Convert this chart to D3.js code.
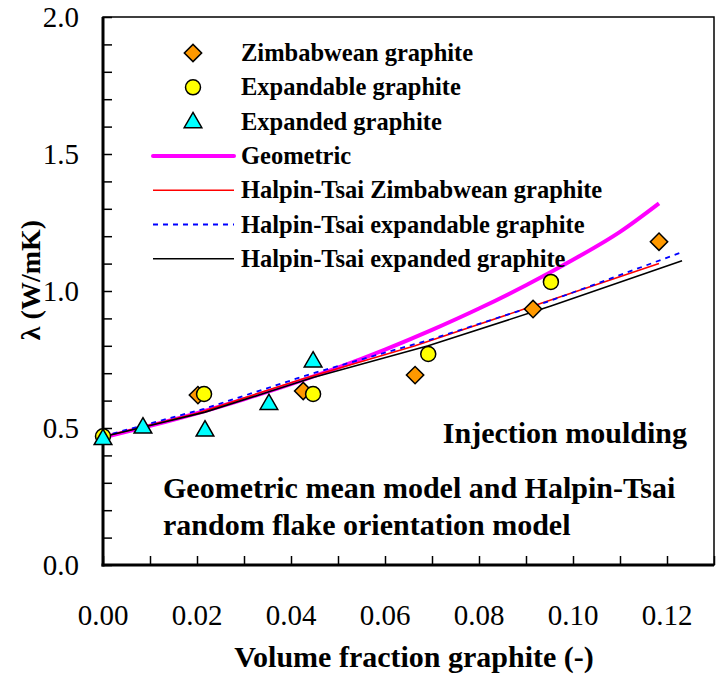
<!DOCTYPE html>
<html>
<head>
<meta charset="utf-8">
<script src="https://cdn.jsdelivr.net/npm/d3@7"></script>
<style>
  html, body { margin: 0; padding: 0; background: #fff; }
  svg { display: block; }
</style>
</head>
<body>
<svg id="chart" width="716" height="675"></svg>
<script>
// ---- data ----
const xTicks = [0, 0.02, 0.04, 0.06, 0.08, 0.10, 0.12];
const xTickLabels = ["0.00", "0.02", "0.04", "0.06", "0.08", "0.10", "0.12"];
const yTicks = [0, 0.5, 1.0, 1.5, 2.0];
const yTickLabels = ["0.0", "0.5", "1.0", "1.5", "2.0"];

const zimbX = [0.0202, 0.0426, 0.0664, 0.0915, 0.1183];
const zimbY = [0.62, 0.635, 0.693, 0.934, 1.18];

const expandableX = [0.0, 0.0215, 0.0447, 0.0692, 0.0953];
const expandableY = [0.47, 0.624, 0.624, 0.77, 1.033];

const expandedX = [0.0, 0.0085, 0.0217, 0.0353, 0.0447];
const expandedY = [0.462, 0.504, 0.493, 0.59, 0.745];

const geoX = [0, 0.01, 0.02, 0.03, 0.04, 0.05, 0.06, 0.07, 0.08, 0.09, 0.10, 0.11, 0.1183];
const geoY = [0.465, 0.508, 0.554, 0.605, 0.660, 0.720, 0.786, 0.858, 0.936, 1.021, 1.114, 1.216, 1.32];

const htZimbX = [0, 0.0202, 0.0426, 0.0664, 0.0915, 0.1183];
const htZimbY = [0.468, 0.555, 0.68, 0.80, 0.945, 1.10];

const htExpandableX = [0, 0.0215, 0.0447, 0.0692, 0.0953, 0.1232];
const htExpandableY = [0.47, 0.57, 0.70, 0.82, 0.965, 1.142];

const htExpandedX = [0, 0.0085, 0.0217, 0.0353, 0.0447, 0.0692, 0.0953, 0.1232];
const htExpandedY = [0.468, 0.503, 0.558, 0.632, 0.684, 0.80, 0.945, 1.11];

const legendLabels = ["Zimbabwean graphite", "Expandable graphite", "Expanded graphite",
  "Geometric", "Halpin-Tsai Zimbabwean graphite", "Halpin-Tsai expandable graphite", "Halpin-Tsai expanded graphite"];

// ---- layout ----
const FONT = "'Liberation Serif', 'Times New Roman', Times, 'DejaVu Serif', serif";
const svg = d3.select("#chart").attr("font-family", FONT);
const L = 103, R = 714, T = 17, B = 565;
const x = d3.scaleLinear().domain([0, 0.13]).range([L, R]);
const y = d3.scaleLinear().domain([0, 2.0]).range([B, T]);

const ORANGE = "#FF9900", YELLOW = "#FFFF00", CYAN = "#00FFFF", MAGENTA = "#FF00FF", RED = "#FF0000", BLUE = "#0000FF";

// frame
svg.append("rect").attr("x", L).attr("y", T).attr("width", R - L).attr("height", B - T)
  .attr("fill", "none").attr("stroke", "#000").attr("stroke-width", 1.5);

// axes with inward ticks
const xAxis = d3.axisTop(x).tickValues(d3.range(0, 0.1301, 0.01)).tickSize(9).tickFormat("");
const gx = svg.append("g").attr("transform", `translate(0,${B})`).call(xAxis);
gx.select(".domain").remove();
gx.selectAll("line").attr("stroke", "#000").attr("stroke-width", 1.5);

const yAxis = d3.axisRight(y).tickValues(d3.range(0, 2.001, 0.1)).tickSize(9).tickFormat("");
const gy = svg.append("g").attr("transform", `translate(${L},0)`).call(yAxis);
gy.select(".domain").remove();
gy.selectAll("line").attr("stroke", "#000").attr("stroke-width", 1.5);

svg.append("line").attr("x1", L).attr("x2", L).attr("y1", T).attr("y2", B + 1.5).attr("stroke", "#000").attr("stroke-width", 3);
svg.append("line").attr("x1", L - 1.5).attr("x2", R).attr("y1", B).attr("y2", B).attr("stroke", "#000").attr("stroke-width", 3);

function txt(sel) { return sel.attr("font-family", FONT).attr("fill", "#000"); }

// tick labels
txt(svg.selectAll(".xl").data(xTicks).enter().append("text"))
  .attr("x", d => x(d)).attr("y", 625).attr("text-anchor", "middle")
  .attr("font-size", 29).text((d, i) => xTickLabels[i]);
txt(svg.selectAll(".yl").data(yTicks).enter().append("text"))
  .attr("x", 79).attr("y", d => y(d) + 10).attr("text-anchor", "end")
  .attr("font-size", 29).text((d, i) => yTickLabels[i]);

// axis titles
txt(svg.append("text")).attr("x", 414).attr("y", 667).attr("text-anchor", "middle")
  .attr("font-size", 30).attr("font-weight", "bold").text("Volume fraction graphite (-)");
txt(svg.append("text")).attr("transform", `translate(40,280) rotate(-90)`).attr("text-anchor", "middle")
  .attr("font-size", 28).attr("font-weight", "bold").text("λ (W/mK)");

// lines
const line = d3.line().x(d => x(d[0])).y(d => y(d[1]));
const zip = (a, b) => a.map((v, i) => [v, b[i]]);
svg.append("path").datum(zip(geoX, geoY)).attr("d", line.curve(d3.curveMonotoneX))
  .attr("fill", "none").attr("stroke", MAGENTA).attr("stroke-width", 4);
line.curve(d3.curveLinear);
svg.append("path").datum(zip(htZimbX, htZimbY)).attr("d", line)
  .attr("fill", "none").attr("stroke", RED).attr("stroke-width", 1.6);
svg.append("path").datum(zip(htExpandableX, htExpandableY)).attr("d", line)
  .attr("fill", "none").attr("stroke", BLUE).attr("stroke-width", 1.8).attr("stroke-dasharray", "5,5");
svg.append("path").datum(zip(htExpandedX, htExpandedY)).attr("d", line)
  .attr("fill", "none").attr("stroke", "#000").attr("stroke-width", 1.6);

// markers
const diamond = d3.symbol().type(d3.symbolSquare).size(150);
const tri = d3.symbol().type(d3.symbolTriangle).size(135);
function drawDiamond(g, cx, cy) {
  g.append("path").attr("d", diamond()).attr("transform", `translate(${cx},${cy}) rotate(45)`)
    .attr("fill", ORANGE).attr("stroke", "#000").attr("stroke-width", 1.5);
}
function drawCircle(g, cx, cy) {
  g.append("circle").attr("cx", cx).attr("cy", cy).attr("r", 7.5)
    .attr("fill", YELLOW).attr("stroke", "#000").attr("stroke-width", 1.5);
}
function drawTri(g, cx, cy) {
  g.append("path").attr("d", tri()).attr("transform", `translate(${cx},${cy + 1})`)
    .attr("fill", CYAN).attr("stroke", "#000").attr("stroke-width", 1.5);
}
const gm = svg.append("g");
zimbX.forEach((v, i) => drawDiamond(gm, x(v), y(zimbY[i])));
expandableX.forEach((v, i) => drawCircle(gm, x(v), y(expandableY[i])));
expandedX.forEach((v, i) => drawTri(gm, x(v), y(expandedY[i])));

// legend
const legY0 = 53, legDy = 34.3, legTextX = 241, legMarkX = 193, legL1 = 153, legL2 = 234;
const lg = svg.append("g");
legendLabels.forEach((t, i) => {
  txt(lg.append("text")).attr("x", legTextX).attr("y", legY0 + i * legDy + 8)
    .attr("font-size", 24.5).attr("font-weight", "bold").text(t);
});
drawDiamond(lg, legMarkX, legY0);
drawCircle(lg, legMarkX, legY0 + legDy);
drawTri(lg, legMarkX, legY0 + 2 * legDy);
const legLines = [
  { c: MAGENTA, w: 4, d: null },
  { c: RED, w: 1.6, d: null },
  { c: BLUE, w: 1.8, d: "5,5" },
  { c: "#000", w: 1.6, d: null }
];
legLines.forEach((s, k) => {
  const yy = legY0 + (3 + k) * legDy;
  lg.append("line").attr("x1", legL1).attr("x2", legL2).attr("y1", yy).attr("y2", yy)
    .attr("stroke", s.c).attr("stroke-width", s.w).attr("stroke-dasharray", s.d)
    .attr("stroke-linecap", k === 0 ? "round" : "butt");
});

// annotations
txt(svg.append("text")).attr("x", 687).attr("y", 443).attr("text-anchor", "end")
  .attr("font-size", 30).attr("font-weight", "bold").text("Injection moulding");
txt(svg.append("text")).attr("x", 163).attr("y", 498)
  .attr("font-size", 30).attr("font-weight", "bold").text("Geometric mean model and Halpin-Tsai");
txt(svg.append("text")).attr("x", 163).attr("y", 535)
  .attr("font-size", 30).attr("font-weight", "bold").text("random flake orientation model");
</script>
</body>
</html>
